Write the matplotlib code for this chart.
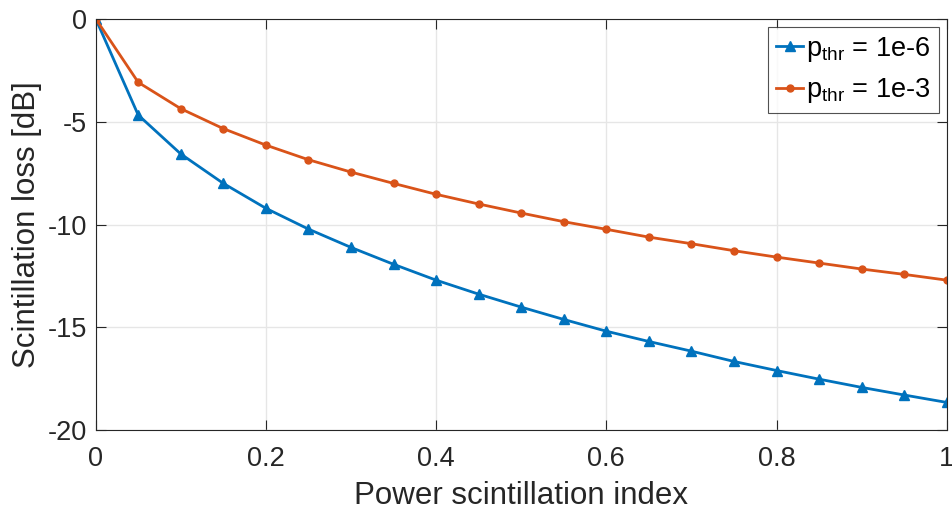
import matplotlib
matplotlib.use('Agg')
import matplotlib.pyplot as plt

plt.rcParams['font.family'] = ['Liberation Sans', 'DejaVu Sans']
plt.rcParams['mathtext.default'] = 'regular'
plt.rcParams['axes.unicode_minus'] = False

# power scintillation index
x = [0, 0.05, 0.1, 0.15, 0.2, 0.25, 0.3, 0.35, 0.4, 0.45, 0.5,
     0.55, 0.6, 0.65, 0.7, 0.75, 0.8, 0.85, 0.9, 0.95, 1.0]
# scintillation loss [dB]
loss_1e6 = [0, -4.68, -6.57, -8.0, -9.21, -10.22, -11.11, -11.93, -12.7, -13.38, -14.01,
            -14.61, -15.18, -15.68, -16.15, -16.65, -17.09, -17.51, -17.91, -18.28, -18.64]
loss_1e3 = [0, -3.09, -4.37, -5.34, -6.14, -6.85, -7.45, -8.0, -8.53, -9.0, -9.44,
            -9.86, -10.23, -10.61, -10.93, -11.27, -11.58, -11.87, -12.16, -12.42, -12.7]
labels = ['$p_{thr}$ = 1e-6', '$p_{thr}$ = 1e-3']

fig = plt.figure(figsize=(9.53, 5.13), dpi=100)
ax = fig.add_axes([0.1004, 0.161, 0.893, 0.8025])

ax.plot(x, loss_1e6, color='#0072BD', marker='^', markersize=6.5, lw=2, label=labels[0])
ax.plot(x, loss_1e3, color='#D95319', marker='o', markersize=5, lw=2, label=labels[1])

ax.set_xlim(0, 1)
ax.set_ylim(-20, 0)
ax.set_xticks([0, 0.2, 0.4, 0.6, 0.8, 1])
ax.set_xticklabels(['0', '0.2', '0.4', '0.6', '0.8', '1'])
ax.set_yticks([-20, -15, -10, -5, 0])
ax.grid(True, color='#e6e6e6', lw=1)
ax.set_axisbelow(True)
for s in ax.spines.values():
    s.set_color('#262626')
    s.set_linewidth(0.8)
ax.tick_params(direction='in', top=True, right=True, labelsize=19.5, colors='#262626',
               length=7)
ax.tick_params(axis='x', pad=11)
ax.tick_params(axis='y', pad=6)

ax.set_xlabel('Power scintillation index', fontsize=22.5, color='#262626', labelpad=7)
ax.set_ylabel('Scintillation loss [dB]', fontsize=22.5, color='#262626', labelpad=4)

leg = ax.legend(loc='upper right', fontsize=19.5, fancybox=False, edgecolor='#262626',
                handlelength=1.0, handletextpad=0.1, borderpad=0.3, labelspacing=0.45,
                borderaxespad=0.3)
leg.get_frame().set_linewidth(0.8)

fig.savefig('out.png', dpi=100)
